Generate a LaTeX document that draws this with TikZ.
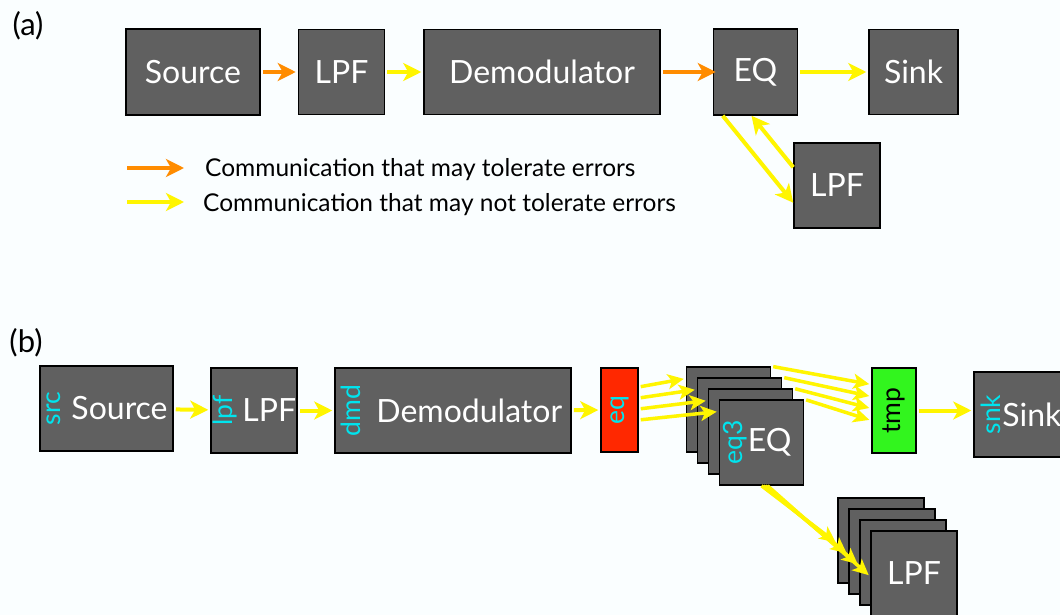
\documentclass[tikz,border=0pt]{standalone}
\usepackage{fontspec}
\setmainfont{Lato}
\usepackage{xcolor}
\usepackage{tikz}
\usetikzlibrary{arrows.meta,positioning}
\definecolor{blockgray}{RGB}{96,96,96}
\definecolor{tolorange}{RGB}{255,140,0}
\definecolor{ntolyellow}{RGB}{255,245,0}
\definecolor{tagcyan}{RGB}{0,228,238}
\definecolor{splitred}{RGB}{255,40,0}
\definecolor{joingreen}{RGB}{50,245,30}
\definecolor{paper}{RGB}{250,254,255}
\tikzset{
	block/.style={draw=black, line width=1.5pt, fill=blockgray, text=white, inner sep=0pt, font=\fontsize{32}{36}\selectfont},
	blocktext/.style={text=white, inner sep=0pt, font=\fontsize{32}{36}\selectfont},
	tag/.style={rotate=90, text=tagcyan, inner sep=0pt, font=\fontsize{26.5}{30}\selectfont},
	legend/.style={inner sep=0pt, font=\fontsize{24.5}{28}\selectfont},
	partlabel/.style={inner sep=0pt, font=\fontsize{31}{34}\selectfont},
	flow/.style={line width=4pt, -{Stealth[length=18pt,width=18pt,inset=5pt]}, shorten <=2pt, shorten >=2pt},
	tol/.style={flow, draw=tolorange},
	ntol/.style={flow, draw=ntolyellow},
	fan/.style={ntol, line width=3.5pt, -{Stealth[length=16pt,width=15pt,inset=4pt]}}
}

\begin{document}
\begin{tikzpicture}[x=1pt, y=-1pt]
	\useasboundingbox (0,0) rectangle (1060,615);
	\fill[paper] (0,0) rectangle (1060,615);
	\clip (0,0) rectangle (1060,615);
	
	% Part (a) is drawn
	\node[partlabel] (part-a) at (28,26) {(a)};
	\node[block, minimum width=134pt, minimum height=86pt] (srcA) at (193,72) {Source};
	\node[block, minimum width=86pt, minimum height=85pt, right=37pt of srcA] (lpfA) {LPF};
	\node[block, minimum width=236pt, minimum height=85pt, right=38pt of lpfA] (dmdA) {Demodulator};
	\node[block, minimum width=84pt, minimum height=86pt, right=52pt of dmdA] (eqA) {EQ};
	\node[block, minimum width=89pt, minimum height=85pt, right=70pt of eqA] (snkA) {Sink};
	\node[block, minimum width=86pt, minimum height=85pt] (lpfA2) at (837,185.5) {LPF};
	
	\draw[tol] (srcA) -- (lpfA);
	\draw[ntol] (lpfA) -- (dmdA);
	\draw[tol, shorten >=-3pt] (dmdA) -- (eqA);
	\draw[ntol] (eqA) -- (snkA);
	\draw[ntol, shorten <=0pt, shorten >=0pt] ([xshift=10pt]eqA.south west) -- ([yshift=26pt]lpfA2.south west);
	\draw[ntol, shorten <=0pt, shorten >=0pt] ([yshift=-25pt]lpfA2.north west) -- ([xshift=-4pt]eqA.south);
	
	% legend
	\coordinate (leg-tol-from) at (127,168);
	\coordinate (leg-tol-to) at (184,168);
	\coordinate (leg-ntol-from) at (127,202);
	\coordinate (leg-ntol-to) at (184,202);
	\draw[tol, shorten <=0pt, shorten >=0pt] (leg-tol-from) -- (leg-tol-to);
	\draw[ntol, shorten <=0pt, shorten >=0pt] (leg-ntol-from) -- (leg-ntol-to);
	\node[legend, anchor=base west] (leg-tol-text) at (205,176) {Communication that may tolerate errors};
	\node[legend, anchor=base west] (leg-ntol-text) at (203,211) {Communication that may not tolerate errors};
	
	% Part (b) is drawn
	\node[partlabel] (part-b) at (26,343) {(b)};
	
	\node[block, minimum width=133pt, minimum height=85pt] (srcB) at (106.5,408.5) {};
	\node[tag, anchor=north] (srcB-tag) at ([xshift=7pt]srcB.west) {src};
	\node[blocktext, anchor=west] (srcB-text) at ([xshift=32pt]srcB.west) {Source};
	
	\node[block, minimum width=86pt, minimum height=85pt] (lpfB) at (254,410.5) {};
	\node[tag, anchor=north] (lpfB-tag) at ([xshift=3pt]lpfB.west) {lpf};
	\node[blocktext, anchor=west] (lpfB-text) at ([xshift=32pt]lpfB.west) {LPF};
	
	\node[block, minimum width=236pt, minimum height=85pt] (dmdB) at (453,410.5) {};
	\node[tag, anchor=north] (dmdB-tag) at ([xshift=7pt]dmdB.west) {dmd};
	\node[blocktext, anchor=west] (dmdB-text) at ([xshift=42pt]dmdB.west) {Demodulator};
	
	\node[block, fill=splitred, minimum width=37pt, minimum height=84pt] (eqB) at (619.5,410) {};
	\node[tag] (eqB-tag) at (eqB) {eq};
	
	% replicated EQ
	\foreach \k in {1,...,4}
		\node[block, minimum width=84pt, minimum height=85pt] (eqs-\k) at ({728.5+11*(\k-1)},{409.5+11*(\k-1)}) {};
	\node[tag, anchor=north] (eqs-tag) at ([xshift=4pt]eqs-4.west) {eq3};
	\node[blocktext, anchor=west] (eqs-text) at ([xshift=29pt]eqs-4.west) {EQ};
	
	\node[block, fill=joingreen, minimum width=44pt, minimum height=85pt] (tmpB) at (894,410.5) {};
	\node[tag, text=black] (tmpB-tag) at (tmpB) {tmp};
	
	\node[block, minimum width=94pt, minimum height=85pt] (snkB) at (1021,414.5) {};
	\node[tag, anchor=north] (snkB-tag) at ([xshift=8pt]snkB.west) {snk};
	\node[blocktext, anchor=west] (snkB-text) at ([xshift=29pt]snkB.west) {Sink};
	
	% replicated LPF
	\foreach \k in {1,...,4}
		\node[block, minimum width=86pt, minimum height=85pt] (lpfs-\k) at ({881+11*(\k-1)},{540.5+11*(\k-1)}) {};
	\node[blocktext] (lpfs-text) at (lpfs-4) {LPF};
	
	\draw[ntol] (srcB) -- (lpfB);
	\draw[ntol] (lpfB) -- (dmdB);
	\draw[ntol] (dmdB) -- (eqB);
	\foreach \k in {1,...,4}{
		\draw[fan] ([yshift={23pt-11pt*(\k-1)}]eqB.east) -- ([yshift=31pt]eqs-\k.west);
		\draw[fan] (eqs-\k.north east) -- ([yshift={26pt-12pt*(\k-1)}]tmpB.west);
		\draw[fan, shorten <=0pt] ([xshift={2pt*(\k-1)}]eqs-4.south) -- ([yshift=-3pt]lpfs-\k.west);
	}
	\draw[ntol] (tmpB.east) -- (tmpB.east -| snkB.west);
	
\end{tikzpicture}
\end{document}
